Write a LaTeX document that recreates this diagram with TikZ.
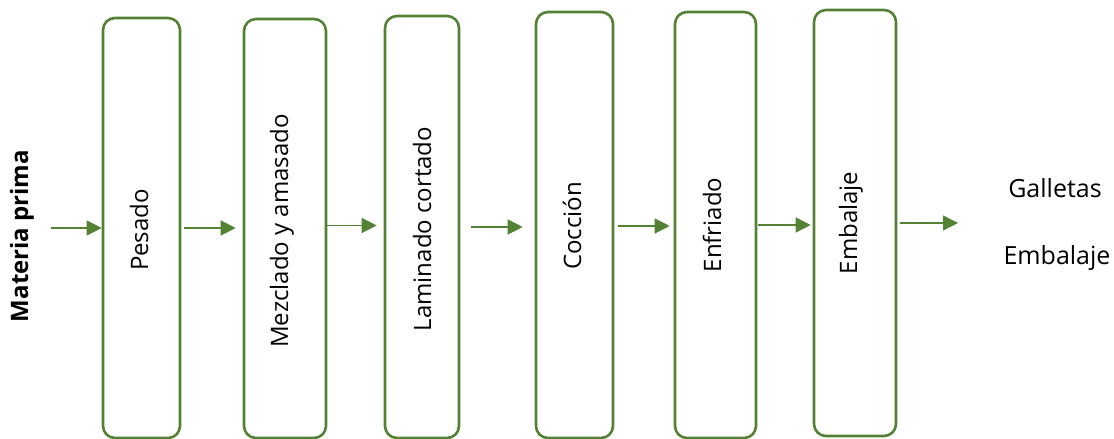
\documentclass[tikz,border=0pt]{standalone}
\usepackage{fontspec}
\setmainfont{Open Sans}
\usetikzlibrary{arrows.meta}
\definecolor{ogreen}{HTML}{548235}
\begin{document}
\begin{tikzpicture}[x=1pt,y=1pt,
  stepbox/.style={draw=ogreen, line width=2.6pt, rounded corners=12pt, fill=white, inner sep=0pt},
  steptext/.style={rotate=90, font=\fontsize{24}{28}\selectfont, text=black, inner sep=0pt},
  sidetext/.style={font=\fontsize{25}{29}\selectfont, text=black, inner sep=0pt},
  arr/.style={draw=ogreen, line width=1.3pt, -{Triangle[length=15pt,width=15pt]}}]
\useasboundingbox (0,0) rectangle (1114,439);
% boxes
\node[stepbox, minimum width=77pt, minimum height=420pt] (p1) at (141.5,211) {};
\node[stepbox, minimum width=82pt, minimum height=419pt] (p2) at (285,210.5) {};
\node[stepbox, minimum width=74pt, minimum height=422pt] (p3) at (422,212) {};
\node[stepbox, minimum width=77pt, minimum height=426pt] (p4) at (574.5,214) {};
\node[stepbox, minimum width=81pt, minimum height=426pt] (p5) at (715.5,214) {};
\node[stepbox, minimum width=82pt, minimum height=426pt] (p6) at (855,216) {};
% box texts
\node[steptext] (t1) at (139,209) {Pesado};
\node[steptext] (t2) at (282,208) {Mezclado y amasado};
\node[steptext] (t3) at (422,210) {Laminado cortado};
\node[steptext] (t4) at (572,213) {Cocción};
\node[steptext] (t5) at (712,214) {Enfriado};
\node[steptext] (t6) at (851,216) {Embalaje};
% side texts
\node[sidetext, rotate=90, font=\fontsize{24}{28}\selectfont\bfseries] (mp) at (22,203) {Materia prima};
\node[sidetext] (g) at (1055,251) {Galletas};
\node[sidetext] (e) at (1057,181) {Embalaje};
% arrows
\coordinate (in) at (51,211);
\coordinate (out) at (958,216);
\draw[arr] (in) -- (p1.west |- in);
\draw[arr, shorten <=3pt, shorten >=7pt] (p1.east |- 0,211) -- (p2.west |- 0,211);
\draw[arr, shorten <=-2pt, shorten >=7pt] (p2.east |- 0,213.5) -- (p3.west |- 0,213.5);
\draw[arr, shorten <=11pt, shorten >=12pt] (p3.east |- 0,212) -- (p4.west |- 0,212);
\draw[arr, shorten <=4pt, shorten >=4pt] (p4.east |- 0,213) -- (p5.west |- 0,213);
\draw[arr, shorten <=1pt, shorten >=2pt] (p5.east |- 0,214) -- (p6.west |- 0,214);
\draw[arr, shorten <=3pt] (p6.east |- out) -- (out);
\end{tikzpicture}
\end{document}
